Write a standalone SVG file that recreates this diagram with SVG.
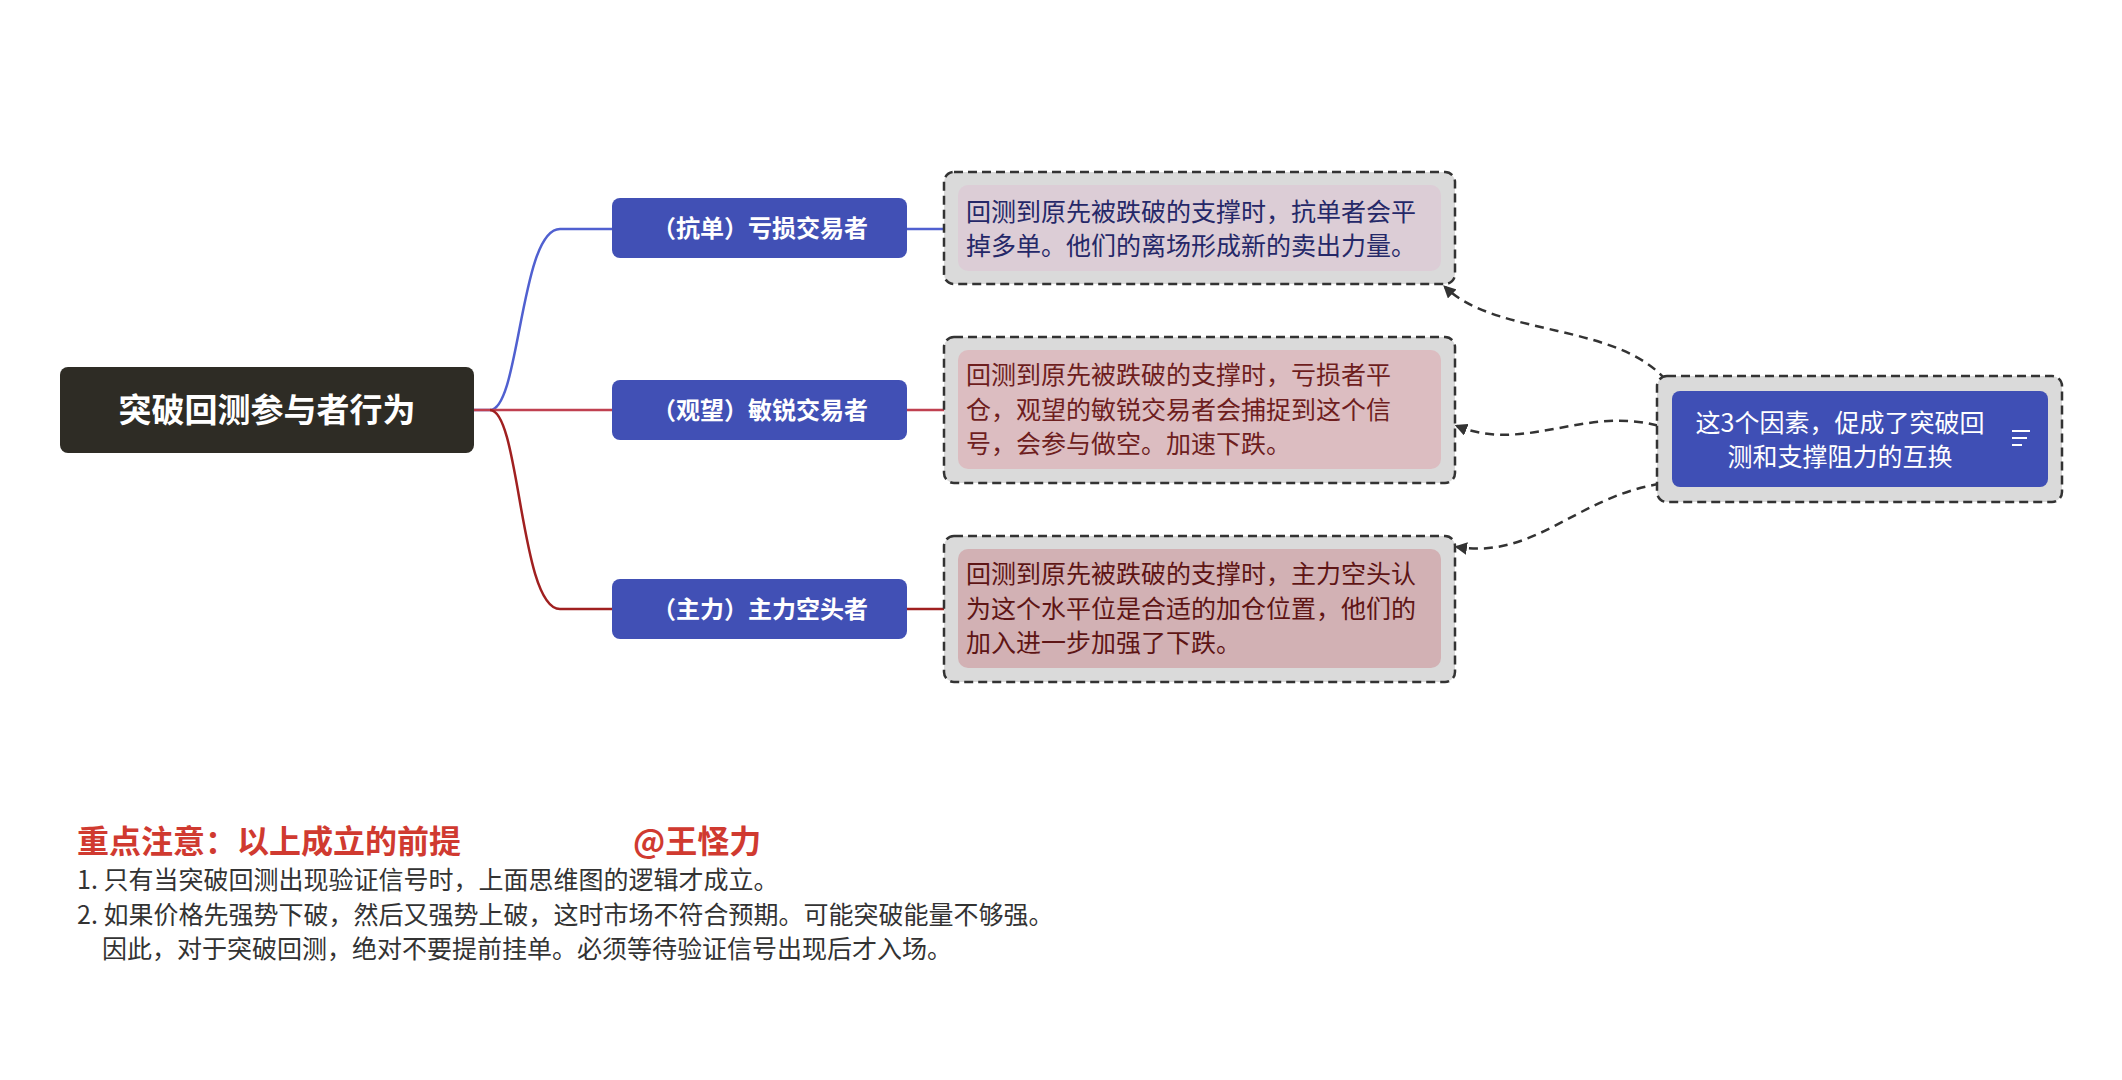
<svg xmlns="http://www.w3.org/2000/svg" width="2122" height="1080" viewBox="0 0 2122 1080">
<defs>
<style>
text{font-family:"Noto Sans CJK SC","Noto Sans",sans-serif}
.br{fill:#4150b5}
.bt{fill:#fff;font-size:24px;font-weight:bold;text-anchor:middle}
.outer{fill:#dadada;stroke:#333;stroke-width:2.5;stroke-dasharray:9 5}
.dt{font-size:25px}
.dash{fill:none;stroke:#333;stroke-width:2.5;stroke-dasharray:9 6}
.note{font-size:25px;fill:#333}
</style>
<marker id="ah" viewBox="0 0 10 10" refX="8" refY="5" markerWidth="5" markerHeight="5" orient="auto"><path d="M0,0L10,5L0,10z" fill="#333"/></marker>
</defs>
<rect width="2122" height="1080" fill="#fff"/>
<g id="connectors">
<path d="M474,410H490C520,410 520,229 560,229H612" fill="none" stroke="#5060d0" stroke-width="2.5"/>
<path d="M474,410H612" fill="none" stroke="#c04050" stroke-width="2.5"/>
<path d="M490,410C520,410 520,609 560,609H612" fill="none" stroke="#a02020" stroke-width="2.5"/>
<path d="M907,229H958" stroke="#5060d0" stroke-width="2.5"/>
<path d="M907,410H958" stroke="#c04050" stroke-width="2.5"/>
<path d="M907,609H958" stroke="#a02020" stroke-width="2.5"/>
<path class="dash" d="M1675,392C1630,320 1500,340 1445,287" marker-end="url(#ah)"/>
<path class="dash" d="M1672,430C1590,400 1530,455 1457,426" marker-end="url(#ah)"/>
<path class="dash" d="M1675,482C1580,490 1540,560 1457,547" marker-end="url(#ah)"/>
</g>
<g id="root"><rect x="60" y="367" width="414" height="86" rx="8" fill="#2e2c25"/><text x="267" y="422" fill="#fff" font-size="33" font-weight="bold" text-anchor="middle">突破回测参与者行为</text></g>
<g id="b1"><rect class="br" x="612" y="198" width="295" height="60" rx="8"/><text class="bt" x="760" y="237">（抗单）亏损交易者</text></g>
<g id="b2"><rect class="br" x="612" y="380" width="295" height="60" rx="8"/><text class="bt" x="760" y="419">（观望）敏锐交易者</text></g>
<g id="b3"><rect class="br" x="612" y="579" width="295" height="60" rx="8"/><text class="bt" x="760" y="618">（主力）主力空头者</text></g>
<g id="d1"><rect class="outer" x="944" y="172" width="511" height="112" rx="10"/><rect x="958" y="185" width="483" height="86" rx="10" fill="#dccdd6"/>
<text class="dt" fill="#252868"><tspan x="966" y="221">回测到原先被跌破的支撑时，抗单者会平</tspan><tspan x="966" y="255">掉多单。他们的离场形成新的卖出力量。</tspan></text></g>
<g id="d2"><rect class="outer" x="944" y="337" width="511" height="146" rx="10"/><rect x="958" y="350" width="483" height="119" rx="10" fill="#dcbdc1"/>
<text class="dt" fill="#6e1e1e"><tspan x="966" y="384">回测到原先被跌破的支撑时，亏损者平</tspan><tspan x="966" y="419">仓，观望的敏锐交易者会捕捉到这个信</tspan><tspan x="966" y="453">号，会参与做空。加速下跌。</tspan></text></g>
<g id="d3"><rect class="outer" x="944" y="536" width="511" height="146" rx="10"/><rect x="958" y="549" width="483" height="119" rx="10" fill="#d2b1b4"/>
<text class="dt" fill="#5e1515"><tspan x="966" y="583">回测到原先被跌破的支撑时，主力空头认</tspan><tspan x="966" y="618">为这个水平位是合适的加仓位置，他们的</tspan><tspan x="966" y="652">加入进一步加强了下跌。</tspan></text></g>
<g id="summary"><rect class="outer" x="1657" y="376" width="405" height="126" rx="10"/><rect x="1672" y="391" width="376" height="96" rx="8" fill="#3f4fb5"/>
<text fill="#fff" font-size="25" text-anchor="middle"><tspan x="1840" y="432">这3个因素，促成了突破回</tspan><tspan x="1840" y="466">测和支撑阻力的互换</tspan></text>
<path d="M2012,431H2030M2012,438H2027M2012,445H2022" stroke="#fff" stroke-width="2"/></g>
<g id="notes">
<text x="77" y="853" fill="#d03a30" font-size="32" font-weight="bold">重点注意：以上成立的前提</text>
<text x="633" y="853" fill="#d03a30" font-size="32" font-weight="bold">@王怪力</text>
<text class="note" x="77" y="889">1.  只有当突破回测出现验证信号时，上面思维图的逻辑才成立。</text>
<text class="note" x="77" y="924">2. 如果价格先强势下破，然后又强势上破，这时市场不符合预期。可能突破能量不够强。</text>
<text class="note" x="102" y="958">因此，对于突破回测，绝对不要提前挂单。必须等待验证信号出现后才入场。</text>
</g>
</svg>
